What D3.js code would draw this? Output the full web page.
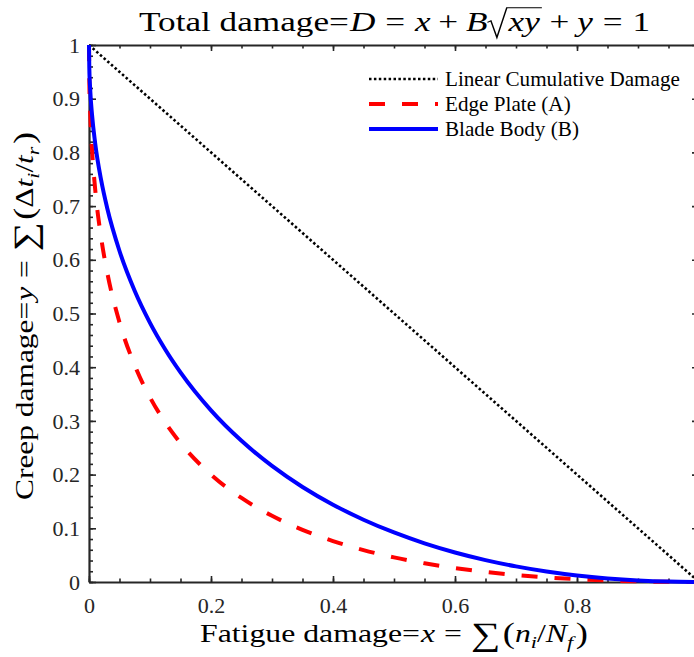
<!DOCTYPE html>
<html><head><meta charset="utf-8">
<script src="https://cdn.jsdelivr.net/npm/d3@7"></script>
<style>body{margin:0;background:#fff} svg{display:block}</style>
</head><body><svg id="chart" width="694" height="657"></svg>
<script>
// ---------------- data ----------------
const xDamage    = [0,0.0005,0.002,0.005,0.01,0.02,0.03,0.05,0.075,0.1,0.125,0.15,0.2,0.25,0.3,0.35,0.4,0.45,0.5,0.55,0.6,0.65,0.7,0.75,0.8,0.85,0.9,0.95,1];
const edgePlateY = [1,0.9347,0.8727,0.8047,0.7331,0.6405,0.5757,0.4835,0.4033,0.3438,0.2970,0.2588,0.2000,0.1565,0.1232,0.0971,0.0762,0.0594,0.0458,0.0348,0.0259,0.0188,0.0131,0.0086,0.0053,0.0028,0.0012,0.0003,0];
const bladeBodyY = [1,0.9579,0.9166,0.8697,0.8181,0.7477,0.6955,0.6164,0.5419,0.4826,0.4330,0.3903,0.3196,0.2629,0.2162,0.1770,0.1440,0.1160,0.0922,0.0720,0.0550,0.0408,0.0291,0.0196,0.0122,0.0067,0.0029,0.0007,0];
const linearX = [0,1];
const linearY = [1,0];
const xTickLabels = [0,0.2,0.4,0.6,0.8];
const yTickLabels = [0,0.1,0.2,0.3,0.4,0.5,0.6,0.7,0.8,0.9,1];
const seriesNames = ["Linear Cumulative Damage","Edge Plate (A)","Blade Body (B)"];

// ---------------- setup ----------------
const FONT = "Liberation Serif";
const AX = '#262626';
const SX = 1.05;
const svg = d3.select('#chart');
const x = d3.scaleLinear().domain([0,1]).range([89,699]);
const y = d3.scaleLinear().domain([0,1]).range([582,45]);
const fmt = d => d3.format('~g')(d);

function styleAxis(g, w){
  g.selectAll('line').attr('stroke',AX).attr('stroke-width',1.6);
  g.selectAll('.domain').attr('stroke',AX).attr('stroke-width',w||2.2);
}
// bottom
svg.append('g').attr('transform',`translate(0,${y(0)})`)
  .call(d3.axisBottom(x).tickValues(x.ticks(20)).tickSize(-3.5).tickSizeOuter(0).tickFormat(''))
  .call(g=>g.select('.domain').remove()).call(styleAxis);
svg.append('g').attr('transform',`translate(0,${y(0)})`)
  .call(d3.axisBottom(x).tickValues(xTickLabels).tickSize(-6).tickSizeOuter(0).tickFormat(fmt))
  .call(styleAxis)
  .call(g=>g.selectAll('text').attr('y',31).attr('dy',null)
     .attr('font-family',FONT).attr('font-size',21).attr('fill',AX)
     .attr('transform',`scale(${SX},1)`));
// top
svg.append('g').attr('transform',`translate(0,${y(1)})`)
  .call(d3.axisTop(x).tickValues(x.ticks(20)).tickSize(-3.5).tickSizeOuter(0).tickFormat(''))
  .call(g=>g.select('.domain').remove()).call(styleAxis);
svg.append('g').attr('transform',`translate(0,${y(1)})`)
  .call(d3.axisTop(x).tickValues(xTickLabels.concat([1])).tickSize(-6).tickSizeOuter(0).tickFormat(''))
  .call(styleAxis);
// left
svg.append('g').attr('transform',`translate(${x(0)},0)`)
  .call(d3.axisLeft(y).tickValues(y.ticks(50)).tickSize(-4).tickSizeOuter(0).tickFormat(''))
  .call(g=>g.select('.domain').remove()).call(styleAxis);
svg.append('g').attr('transform',`translate(${x(0)},0)`)
  .call(d3.axisLeft(y).tickValues(yTickLabels).tickSize(-7).tickSizeOuter(0).tickFormat(fmt))
  .call(styleAxis)
  .call(g=>g.selectAll('text').attr('x',-9/SX).attr('dy','0.34em')
     .attr('font-family',FONT).attr('font-size',21).attr('fill',AX)
     .attr('transform',`scale(${SX},1)`));
// right
svg.append('g').attr('transform',`translate(${x(1)},0)`)
  .call(d3.axisRight(y).tickValues(y.ticks(50)).tickSize(-4).tickSizeOuter(0).tickFormat(''))
  .call(g=>g.select('.domain').remove()).call(styleAxis);
svg.append('g').attr('transform',`translate(${x(1)},0)`)
  .call(d3.axisRight(y).tickValues(yTickLabels).tickSize(-7).tickSizeOuter(0).tickFormat(''))
  .call(styleAxis);

// ---------------- series ----------------
const series = [
  {name:seriesNames[0], xs:linearX, ys:linearY, color:'#000000', width:2.6, dash:'2.5,2.4'},
  {name:seriesNames[1], xs:xDamage, ys:edgePlateY, color:'#ff0000', width:4, dash:'16,17'},
  {name:seriesNames[2], xs:xDamage, ys:bladeBodyY, color:'#0000ff', width:4, dash:null}
];
const line = d3.line().x(d=>x(d[0])).y(d=>y(d[1])).curve(d3.curveMonotoneX);
series.forEach(s=>{
  svg.append('path').datum(s.xs.map((v,i)=>[v,s.ys[i]]))
    .attr('d',line).attr('fill','none').attr('stroke',s.color)
    .attr('stroke-width',s.width).attr('stroke-dasharray',s.dash);
});

// ---------------- legend ----------------
const legY = [79,104,129];
const legTexts = [];
series.forEach((s,i)=>{
  svg.append('line').attr('x1',369).attr('x2',438).attr('y1',legY[i]).attr('y2',legY[i])
    .attr('stroke',s.color).attr('stroke-width',s.width).attr('stroke-dasharray',s.dash);
  legTexts.push(svg.append('text')
    .attr('dy','0.34em').attr('font-family',FONT).attr('font-size',20).attr('fill','#000')
    .text(s.name));
});
const legScale = 235 / legTexts[0].node().getComputedTextLength();
legTexts.forEach((t,i)=>t.attr('transform',`translate(445,${legY[i]}) scale(${legScale},1)`));

// ---------------- math text helper ----------------
function drawMath(items, fs){
  const g = svg.append('g').attr('font-family',FONT).attr('fill','#000');
  const inner = g.append('g');
  let cx = 0;
  items.forEach(it=>{
    cx += (it.pre||0)*fs;
    if (it.sqrt){
      const x0 = cx, rw = 0.6*fs;
      cx += rw;
      const t = inner.append('text').attr('x',cx).attr('y',0).attr('font-size',fs)
        .attr('font-style','italic').text(it.sqrt);
      const w = t.node().getComputedTextLength();
      const top = -0.86*fs;
      inner.append('path')
        .attr('d',`M${x0},${-0.32*fs} L${x0+0.1*fs},${-0.38*fs} L${x0+0.27*fs},${0.24*fs} L${x0+rw-0.05*fs},${top} L${cx+w+0.06*fs},${top}`)
        .attr('fill','none').attr('stroke','#000').attr('stroke-width',1.1);
      cx += w + 0.06*fs;
    } else {
      let size = fs, yy = 0;
      if (it.sub){ size = fs*0.7; yy = fs*0.22; }
      if (it.big){ size = fs*1.3; yy = fs*0.1; }
      if (it.par){ size = fs*1.15; yy = fs*0.05; }
      const t = inner.append('text').attr('x',cx).attr('y',yy).attr('font-size',size)
        .attr('font-style',it.it?'italic':'normal').text(it.t);
      cx += t.node().getComputedTextLength();
    }
    cx += (it.post||0)*fs;
  });
  return {g, width:cx};
}

// title
const title = drawMath([
  {t:'Total damage='},{t:'D',it:1,pre:0.03},{t:'=',pre:0.28,post:0.28},{t:'x',it:1},
  {t:'+',pre:0.22,post:0.22},{t:'B',it:1},{sqrt:'xy'},{t:'+',pre:0.22,post:0.22},
  {t:'y',it:1},{t:'=',pre:0.28,post:0.28},{t:'1'}
], 27);
title.g.attr('transform',`translate(${394.5-511/2},31) scale(${511/title.width},1)`);

// x label
const xl = drawMath([
  {t:'Fatigue damage='},{t:'x',it:1,pre:0.03},{t:'=',pre:0.28,post:0.28},{t:'\u2211',big:1,post:0.08},
  {t:'(',par:1},{t:'n',it:1},{t:'i',it:1,sub:1},{t:'/'},{t:'N',it:1},{t:'f',it:1,sub:1,post:0.08},{t:')',par:1}
], 25);
xl.g.attr('transform',`translate(${394-388/2},642) scale(${388/xl.width},1)`);

// y label
const yl = drawMath([
  {t:'Creep damage='},{t:'y',it:1,pre:0.03},{t:'=',pre:0.28,post:0.28},{t:'\u2211',big:1,post:0.08},
  {t:'(',par:1},{t:'\u0394'},{t:'t',it:1},{t:'i',it:1,sub:1},{t:'/'},{t:'t',it:1},{t:'r',it:1,sub:1,post:0.08},{t:')',par:1}
], 25);
yl.g.attr('transform',`translate(33,${316+368/2}) rotate(-90) scale(${368/yl.width},1)`);
</script></body></html>
